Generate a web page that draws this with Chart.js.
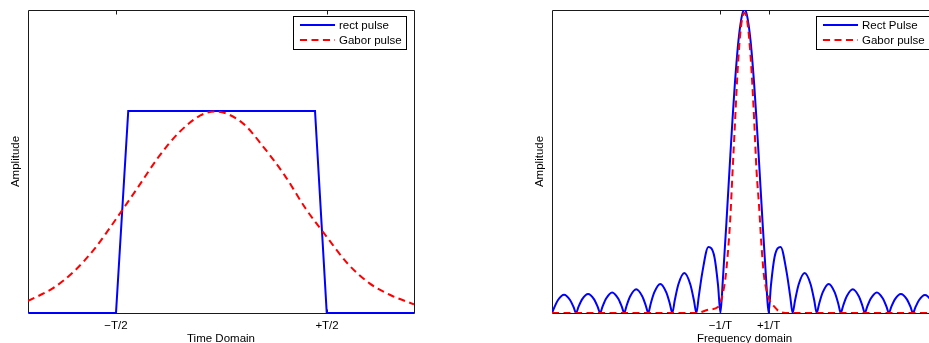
<!DOCTYPE html>
<html><head><meta charset="utf-8">
<script src="https://cdn.jsdelivr.net/npm/chart.js@4/dist/chart.umd.min.js"></script>
<style>
html,body{margin:0;padding:0;background:#fff;overflow:hidden;width:929px;height:343px;position:relative;}
#c1{position:absolute;left:0;top:0;}
#c2{position:absolute;left:524px;top:0;}
</style></head><body>
<canvas id="c1" width="420" height="350"></canvas>
<canvas id="c2" width="421" height="350"></canvas>
<script>
// ---------- Data: time domain ----------
const timeTickValues = [-0.5, 0.5];
const timeTickLabels = ['\u2212T/2', '+T/2'];
const rectPulseX = [-0.917, -0.5, -0.442, 0.443, 0.4986, 0.912];
const rectPulseY = [0, 0, 1, 1, 0, 0];
const gaborTimeX = [-0.917, -0.8, -0.7, -0.6, -0.5, -0.4, -0.3, -0.2, -0.1, -0.03, 0.1, 0.2, 0.3, 0.4, 0.5, 0.6, 0.7, 0.8, 0.912];
const gaborTimeY = [0.060, 0.122, 0.205, 0.320, 0.465, 0.616, 0.770, 0.895, 0.978, 0.998, 0.940, 0.820, 0.680, 0.515, 0.375, 0.242, 0.148, 0.089, 0.043];

// ---------- Data: frequency domain ----------
const freqTickValues = [-1, 1];
const freqTickLabels = ['\u22121/T', '+1/T'];
const rectSpecX = [-8,-7.9,-7.75,-7.5,-7.25,-7.1, -7,-6.9,-6.75,-6.5,-6.25,-6.1, -6,-5.9,-5.75,-5.5,-5.25,-5.1,
  -5,-4.9,-4.75,-4.5,-4.25,-4.1, -4,-3.9,-3.75,-3.5,-3.25,-3.1, -3,-2.9,-2.75,-2.5,-2.25,-2.1, -2,-1.9,-1.75,-1.5,-1.25,-1.1,
  -1,-0.9,-0.75,-0.6,-0.5,-0.4,-0.25,-0.1, 0, 0.1,0.25,0.4,0.5,0.6,0.75,0.9,
  1,1.1,1.25,1.5,1.75,1.9, 2,2.1,2.25,2.5,2.75,2.9, 3,3.1,3.25,3.5,3.75,3.9, 4,4.1,4.25,4.5,4.75,4.9,
  5,5.1,5.25,5.5,5.75,5.9, 6,6.1,6.25,6.5,6.75,6.9, 7,7.1,7.25,7.5,7.75,7.9, 8];
const rectSpecY = [0,.019,.043,.060,.043,.019, 0,.020,.045,.063,.045,.020, 0,.021,.048,.068,.048,.021,
  0,.024,.055,.078,.055,.024, 0,.030,.068,.096,.068,.030, 0,.041,.094,.132,.094,.041, 0,.055,.135,.218,.185,.092,
  0,.109,.30,.505,.637,.757,.90,.984, 1, .984,.90,.757,.637,.505,.30,.109,
  0,.092,.185,.218,.135,.055, 0,.041,.094,.132,.094,.041, 0,.030,.068,.096,.068,.030, 0,.024,.055,.078,.055,.024,
  0,.021,.048,.068,.048,.021, 0,.020,.045,.063,.045,.020, 0,.018,.042,.059,.042,.018, 0];
const gaborSpecX = [-8,-7,-6,-5,-4,-3,-2,-1.5,-1.1,-1,-0.9,-0.8,-0.7,-0.6,-0.5,-0.4,-0.3,-0.2,-0.1,0,
  0.1,0.2,0.3,0.4,0.5,0.6,0.7,0.8,0.9,1,1.25,1.5,2,3,4,5,6,7,8];
const gaborSpecY = [0,0,0,0,0,0,0,0.011,0.02,0.035,0.065,0.11,0.19,0.30,0.46,0.62,0.78,0.90,0.97,0.99,
  0.97,0.90,0.79,0.64,0.47,0.36,0.23,0.13,0.08,0.05,0.02,0.003,0,0,0,0,0,0,0];

const FONT = "'Liberation Sans', Arial, Helvetica, sans-serif";
const FSIZE = 11.5;
const AXIS_COLOR = '#1a1a1a';
const BLUE = '#0000ff', RED = '#ff0000';

function pts(xs, ys) { return xs.map((x, i) => ({x: x, y: ys[i]})); }

const framePlugin = {
  id: 'frame',
  beforeDatasetsDraw(chart, args, opts) {
    const {ctx, chartArea: a, scales: {x}} = chart;
    ctx.save();
    ctx.strokeStyle = AXIS_COLOR;
    ctx.lineWidth = 1;
    const L = Math.floor(a.left) + 0.5, T = Math.floor(a.top) + 0.5;
    const R = Math.floor(a.right) + 0.5, B = Math.floor(a.bottom) + 0.5;
    ctx.beginPath();
    ctx.moveTo(L, T); ctx.lineTo(R, T); ctx.lineTo(R, B); ctx.lineTo(L, B); ctx.closePath();
    opts.tickValues.forEach(v => {
      const px = Math.round(x.getPixelForValue(v)) + 0.5;
      ctx.moveTo(px, T); ctx.lineTo(px, T + 4);
      ctx.moveTo(px, B); ctx.lineTo(px, B - 4);
    });
    ctx.stroke();
    ctx.restore();
  },
  afterDraw(chart, args, opts) {
    const {ctx, chartArea: a} = chart;
    const items = opts.legendOrder.map(i => chart.data.datasets[i]);
    ctx.save();
    ctx.font = FSIZE + 'px ' + FONT;
    let maxW = 0;
    items.forEach(d => { maxW = Math.max(maxW, ctx.measureText(d.label).width); });
    const w = Math.round(46 + maxW + 4), h = 33;
    const right = Math.floor(a.right) - 8;
    const left = right - w, top = Math.floor(a.top) + 6;
    ctx.fillStyle = '#fff';
    ctx.fillRect(left, top, w, h);
    ctx.strokeStyle = '#000';
    ctx.lineWidth = 1;
    ctx.strokeRect(left + 0.5, top + 0.5, w, h);
    items.forEach((d, i) => {
      const y = top + 9 + i * 15;
      ctx.beginPath();
      ctx.strokeStyle = d.borderColor;
      ctx.lineWidth = d.borderWidth;
      ctx.setLineDash(d.borderDash || []);
      ctx.moveTo(left + 7, y); ctx.lineTo(left + 42, y);
      ctx.stroke();
      ctx.setLineDash([]);
      ctx.fillStyle = '#000';
      ctx.textBaseline = 'middle';
      ctx.textAlign = 'left';
      ctx.fillText(d.label, left + 46, y + 0.5);
    });
    ctx.restore();
  }
};

function makeChart(canvas, cfg) {
  return new Chart(canvas, {
    type: 'line',
    data: {
      datasets: [
        {label: cfg.labels[0], data: cfg.blue, borderColor: BLUE, borderWidth: 2, pointRadius: 0,
         fill: false, tension: cfg.blueTension, cubicInterpolationMode: cfg.blueMode, order: 1},
        {label: cfg.labels[1], data: cfg.red, borderColor: RED, borderWidth: 2, borderDash: [7, 4.5], pointRadius: 0,
         fill: false, cubicInterpolationMode: 'monotone', order: 0}
      ]
    },
    options: {
      responsive: false,
      animation: false,
      devicePixelRatio: 1,
      layout: {padding: {top: 10, right: cfg.padRight, bottom: 0, left: 0}},
      plugins: {
        legend: {display: false},
        tooltip: {enabled: false},
        frame: {tickValues: cfg.tickValues, legendOrder: [0, 1]}
      },
      scales: {
        x: {
          type: 'linear', min: cfg.xmin, max: cfg.xmax,
          grid: {display: false, drawTicks: false},
          border: {display: false},
          afterBuildTicks: s => { s.ticks = cfg.tickValues.map(v => ({value: v})); },
          afterFit: s => { s.height = 37; },
          ticks: {
            autoSkip: false, maxRotation: 0, padding: 6, color: '#000',
            font: {family: FONT, size: FSIZE},
            callback: (v) => { const i = cfg.tickValues.indexOf(v); return i >= 0 ? cfg.tickLabels[i] : ''; }
          },
          title: {display: true, text: cfg.xTitle, color: '#000', font: {family: FONT, size: FSIZE},
                  padding: {top: 0, bottom: 3.8}}
        },
        y: {
          type: 'linear', min: 0, max: cfg.ymax,
          grid: {display: false, drawTicks: false},
          border: {display: false},
          ticks: {display: false},
          afterFit: s => { s.width = 28; },
          title: {display: true, text: 'Amplitude', color: '#000', font: {family: FONT, size: FSIZE},
                  padding: {top: 9.4, bottom: 0}}
        }
      }
    },
    plugins: [framePlugin]
  });
}

makeChart(document.getElementById('c1'), {
  labels: ['rect pulse', 'Gabor pulse'],
  blue: pts(rectPulseX, rectPulseY), blueTension: 0, blueMode: 'default',
  red: pts(gaborTimeX, gaborTimeY),
  tickValues: timeTickValues, tickLabels: timeTickLabels,
  xmin: -0.917, xmax: 0.912, ymax: 1.5, padRight: 6, xTitle: 'Time Domain'
});

makeChart(document.getElementById('c2'), {
  labels: ['Rect Pulse', 'Gabor pulse'],
  blue: pts(rectSpecX, rectSpecY), blueTension: 0.4, blueMode: 'monotone',
  red: pts(gaborSpecX, gaborSpecY),
  tickValues: freqTickValues, tickLabels: freqTickLabels,
  xmin: -8, xmax: 8, ymax: 1, padRight: 8, xTitle: 'Frequency domain'
});
</script>
</body></html>
